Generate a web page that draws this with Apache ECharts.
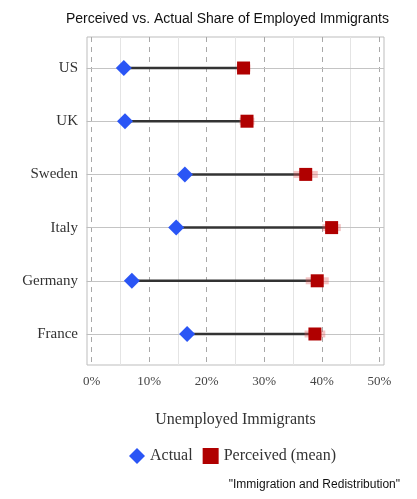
<!DOCTYPE html>
<html>
<head>
<meta charset="utf-8">
<script src="https://cdn.jsdelivr.net/npm/echarts@6/dist/echarts.min.js"></script>
<style>
  html, body { margin: 0; padding: 0; background: #fff; }
  #chart { width: 417px; height: 499px; }
</style>
</head>
<body>
<div id="chart"></div>
<script>
// countries top to bottom
var countries = ['US', 'UK', 'Sweden', 'Italy', 'Germany', 'France'];
// share of unemployed immigrants, %
var actual = [5.6, 5.8, 16.2, 14.7, 7.0, 16.6];
var perceived = [26.4, 27.0, 37.2, 41.7, 39.2, 38.8];
// half width of the faint band round the perceived mean
var perceivedErr = [1.2, 1.3, 2.1, 1.6, 2.0, 1.8];
var majorTicks = [0, 10, 20, 30, 40, 50];
var minorTicks = [5, 15, 25, 35, 45];
var rows = [1, 2, 3, 4, 5, 6];

var serif = '"Liberation Serif", "DejaVu Serif", serif';
var sans = '"Liberation Sans", Arial, sans-serif';

var chart = echarts.init(document.getElementById('chart'));

var actualData = actual.map(function (v, i) { return [v, i + 1]; });
var perceivedData = perceived.map(function (v, i) { return [v, i + 1]; });
var barData = actual.map(function (v, i) { return [v, perceived[i], i + 1, perceivedErr[i]]; });

var markLines = []
  .concat(minorTicks.map(function (v) {
    return { xAxis: v, lineStyle: { color: '#e4e4e4', type: 'solid', width: 1 } };
  }))
  .concat(majorTicks.map(function (v) {
    return { xAxis: v, lineStyle: { color: '#a8a8a8', type: [5, 5], width: 1 } };
  }))
  .concat(rows.map(function (v) {
    return { yAxis: v, lineStyle: { color: '#c4c4c4', type: 'solid', width: 1.2 } };
  }));

var option = {
  animation: false,
  title: {
    text: 'Perceived vs. Actual Share of Employed Immigrants',
    left: 61,
    top: 7,
    textStyle: { fontFamily: sans, fontSize: 14, fontWeight: 'normal', color: '#111' }
  },
  grid: {
    left: 87,
    right: 33,
    top: 37,
    bottom: 134,
    show: true,
    borderColor: '#bdbdbd',
    borderWidth: 1
  },
  xAxis: {
    type: 'value',
    min: -0.8,
    max: 50.8,
    splitLine: { show: false },
    axisLine: { show: false },
    axisTick: { show: false },
    axisLabel: {
      customValues: majorTicks,
      formatter: '{value}%',
      fontFamily: serif,
      fontSize: 13,
      color: '#444',
      margin: 10
    },
    name: 'Unemployed Immigrants',
    nameLocation: 'middle',
    nameGap: 47,
    nameTextStyle: { fontFamily: serif, fontSize: 16, color: '#333' }
  },
  yAxis: {
    type: 'value',
    inverse: true,
    min: 0.417,
    max: 6.583,
    splitLine: { show: false },
    axisLine: { show: false },
    axisTick: {
      show: true,
      customValues: rows,
      length: 5,
      lineStyle: { color: '#bdbdbd' }
    },
    axisLabel: {
      customValues: rows,
      formatter: function (v) { return countries[Math.round(v) - 1]; },
      fontFamily: serif,
      fontSize: 15,
      color: '#333',
      margin: 9
    }
  },
  legend: {
    top: 443,
    left: 124,
    itemWidth: 16,
    itemHeight: 16,
    itemGap: 10,
    textStyle: { fontFamily: serif, fontSize: 16, color: '#333' },
    data: [
      { name: 'Actual', icon: 'diamond' },
      { name: 'Perceived (mean)', icon: 'rect' }
    ]
  },
  graphic: [{
    type: 'text',
    right: 17,
    top: 479,
    style: {
      text: '"Immigration and Redistribution"',
      font: '12px ' + sans,
      fill: '#111'
    }
  }],
  series: [
    {
      type: 'custom',
      name: 'span',
      silent: true,
      z: 1,
      data: barData,
      renderItem: function (params, api) {
        var a = api.coord([api.value(0), api.value(2)]);
        var p = api.coord([api.value(1), api.value(2)]);
        var e0 = api.coord([api.value(1) - api.value(3), api.value(2)]);
        var e1 = api.coord([api.value(1) + api.value(3), api.value(2)]);
        return {
          type: 'group',
          children: [
            {
              type: 'line',
              shape: { x1: a[0], y1: a[1], x2: p[0], y2: p[1] },
              style: { stroke: '#333', lineWidth: 2.5 }
            },
            {
              type: 'line',
              shape: { x1: e0[0], y1: e0[1], x2: e1[0], y2: e1[1] },
              style: { stroke: 'rgba(225,90,90,0.35)', lineWidth: 7 }
            }
          ]
        };
      },
      markLine: {
        silent: true,
        symbol: 'none',
        label: { show: false },
        z: 0,
        data: markLines
      }
    },
    {
      type: 'scatter',
      name: 'Actual',
      symbol: 'diamond',
      symbolSize: 16,
      z: 3,
      itemStyle: { color: '#2a55f5', opacity: 1 },
      data: actualData
    },
    {
      type: 'scatter',
      name: 'Perceived (mean)',
      symbol: 'rect',
      symbolSize: 13,
      z: 3,
      itemStyle: { color: '#b00000', opacity: 1 },
      data: perceivedData
    }
  ]
};

chart.setOption(option);
</script>
</body>
</html>
